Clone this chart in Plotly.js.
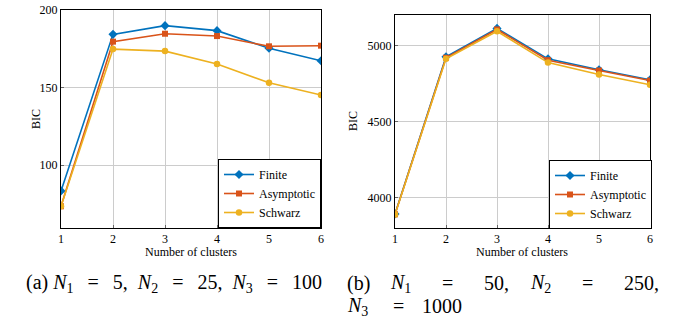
<!DOCTYPE html>
<html>
<head>
<meta charset="utf-8">
<script src="https://cdn.plot.ly/plotly-3.0.1.min.js"></script>
<style>html,body{margin:0;padding:0;background:#fff;}#plot{width:677px;height:318px;}</style>
</head>
<body>
<div id="plot"></div>
<script>
// Data
const clusters = [1, 2, 3, 4, 5, 6];
const seriesNames = ["Finite", "Asymptotic", "Schwarz"];
// (a) N1=5, N2=25, N3=100
const finiteA     = [83.4, 184.3, 189.9, 186.7, 175.3, 167.3];
const asymptoticA = [73.5, 179.6, 184.7, 183.2, 176.6, 177.0];
const schwarzA    = [73.5, 174.8, 173.5, 165.2, 153.1, 145.2];
// (b) N1=50, N2=250, N3=1000
const finiteB     = [3892, 4925, 5112, 4912, 4840, 4774];
const asymptoticB = [3890, 4919, 5105, 4903, 4835, 4769];
const schwarzB    = [3889, 4912, 5093, 4887, 4809, 4741];
const xTickVals = [1, 2, 3, 4, 5, 6];
const yTickValsA = [100, 150, 200];
const yTickValsB = [4000, 4500, 5000];
const xTitle = "Number of clusters";
const yTitle = "BIC";

const colors = ["#0072BD", "#D95319", "#EDB120"];
const symbols = ["diamond", "square", "circle"];
const sizes = [7, 6, 6.5];
const FONT = "Liberation Serif";

const dataA = [finiteA, asymptoticA, schwarzA];
const dataB = [finiteB, asymptoticB, schwarzB];
const traces = [];
dataA.forEach((ys, i) => traces.push({
  x: clusters, y: ys, xaxis: "x", yaxis: "y", name: seriesNames[i], legend: "legend",
  mode: "lines+markers", line: {color: colors[i], width: 1.6},
  marker: {symbol: symbols[i], size: sizes[i], color: colors[i]}
}));
dataB.forEach((ys, i) => traces.push({
  x: clusters, y: ys, xaxis: "x2", yaxis: "y2", name: seriesNames[i], legend: "legend2",
  mode: "lines+markers", line: {color: colors[i], width: 1.6},
  marker: {symbol: symbols[i], size: sizes[i], color: colors[i]}
}));

function xax(domain, anchor) {
  return {domain: domain, anchor: anchor, range: [1, 6], tickvals: xTickVals,
    showgrid: true, gridcolor: "#cccccc", gridwidth: 1, zeroline: false,
    showline: true, linecolor: "#000", linewidth: 1, mirror: true,
    ticks: "inside", ticklen: 3, tickcolor: "#666",
    tickfont: {family: FONT, size: 12, color: "#000"}};
}
function yax(domain, anchor, range, tv) {
  return {domain: domain, anchor: anchor, range: range, tickvals: tv,
    showgrid: true, gridcolor: "#cccccc", gridwidth: 1, zeroline: false,
    showline: true, linecolor: "#000", linewidth: 1, mirror: true,
    ticks: "inside", ticklen: 3, tickcolor: "#666",
    tickfont: {family: FONT, size: 12, color: "#000"}};
}

const W = 677, H = 318;
const px = v => v / W, py = v => (H - v) / H;

const ann = [];
function t(text, x, y, size, xanchor) {
  ann.push({text: text, x: px(x), y: py(y), xref: "paper", yref: "paper",
    xanchor: xanchor || "center", yanchor: "middle", showarrow: false,
    font: {family: FONT, size: size, color: "#000"}});
}
// axis titles
t(xTitle, 191, 252, 12);
t(xTitle, 522, 252, 12);
ann.push({text: yTitle, x: px(27), y: py(119), xref: "paper", yref: "paper", textangle: -90,
  showarrow: false, font: {family: FONT, size: 12, color: "#000"}});
ann.push({text: yTitle, x: px(353), y: py(121), xref: "paper", yref: "paper", textangle: -90,
  showarrow: false, font: {family: FONT, size: 12, color: "#000"}});
// captions
const CS = 20;
const EQ = "\u2002\u2009=\u2002\u2009";
t("(a) <i>N</i><sub>1</sub>" + EQ + "5,\u2002<i>N</i><sub>2</sub>" + EQ + "25,\u2002<i>N</i><sub>3</sub>" + EQ + "100", 174, 283, CS);
t("(b)", 345, 283, CS, "left");
t("<i>N</i><sub>1</sub>", 388, 283, CS, "left");
t("=", 447, 283, CS);
t("50,", 482, 283, CS, "left");
t("<i>N</i><sub>2</sub>", 528, 283, CS, "left");
t("=", 587, 283, CS);
t("250,", 661, 283, CS, "right");
t("<i>N</i><sub>3</sub>", 345, 306, CS, "left");
t("=", 398, 306, CS);
t("1000", 420, 306, CS, "left");

const legendStyle = (x, y) => ({x: px(x), y: py(y), xanchor: "left", yanchor: "top",
  bgcolor: "#fff", bordercolor: "#000", borderwidth: 1,
  font: {family: FONT, size: 12, color: "#000"}, tracegroupgap: 0, itemwidth: 30});

const layout = {
  width: W, height: H, margin: {l: 0, r: 0, t: 0, b: 0},
  font: {family: FONT, size: 12, color: "#000"},
  paper_bgcolor: "#fff", plot_bgcolor: "#fff", showlegend: true,
  xaxis: xax([px(61), px(321)], "y"),
  yaxis: yax([py(228), py(10)], "x", [59.5, 200], yTickValsA),
  xaxis2: xax([px(395), px(650)], "y2"),
  yaxis2: yax([py(228), py(15)], "x2", [3800, 5200], yTickValsB),
  legend: legendStyle(218, 159),
  legend2: legendStyle(549, 160),
  annotations: ann
};
Plotly.newPlot("plot", traces, layout, {staticPlot: true, displayModeBar: false});
</script>
</body>
</html>
